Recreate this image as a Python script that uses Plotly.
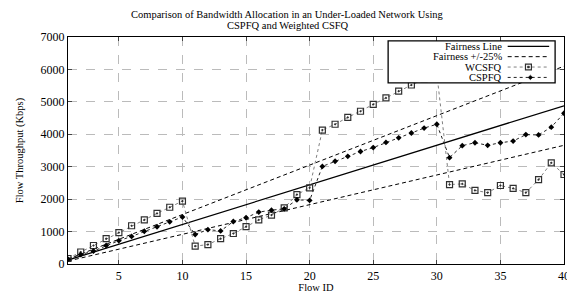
import plotly.graph_objects as go

flow_ids = list(range(1, 41))
fair_share_per_flow = 122  # Kbps per flow index (fairness line slope)

wcsfq = [170, 370, 570, 780, 970, 1180, 1360, 1560, 1750, 1940,
         550, 600, 780, 940, 1150, 1360, 1510, 1730, 2140, 2350,
         4130, 4310, 4520, 4710, 4920, 5120, 5330, 5520, 5700, 5870,
         2450, 2470, 2270, 2200, 2420, 2330, 2200, 2600, 3120, 2760]

cspfq = [150, 290, 400, 570, 720, 850, 1010, 1150, 1300, 1450,
         910, 1060, 1020, 1310, 1430, 1600, 1660, 1700, 1980, 1960,
         3010, 3170, 3320, 3470, 3590, 3750, 3890, 4040, 4190, 4310,
         3280, 3650, 3740, 3660, 3740, 3790, 3990, 3980, 4220, 4650]

x_ticks = [5, 10, 15, 20, 25, 30, 35, 40]
y_ticks = [0, 1000, 2000, 3000, 4000, 5000, 6000, 7000]
legend_names = ["Fairness Line", "Fairness +/-25%", "WCSFQ", "CSPFQ"]

fair = [fair_share_per_flow * i for i in flow_ids]
upper = [1.25 * v for v in fair]
lower = [0.75 * v for v in fair]

FONT = "Liberation Serif, Times New Roman, serif"

# figure geometry (page body has an 8px margin)
W, H = 567, 289
ML, MR, MT, MB = 60, 5, 29, 28
PW, PH = W - ML - MR, H - MT - MB


def px(x):
    return (x - ML) / PW


def py(y):
    return 1 - (y - MT) / PH


WC_LINE = "#808080"
WC_MARK = "#303030"
DASH = "4px,3px"

fig = go.Figure()
fig.add_trace(go.Scatter(x=flow_ids, y=fair, mode="lines", name=legend_names[0],
                         line=dict(color="black", width=1.3)))
fig.add_trace(go.Scatter(x=flow_ids, y=upper, mode="lines", name=legend_names[1],
                         line=dict(color="black", width=1, dash=DASH)))
fig.add_trace(go.Scatter(x=flow_ids, y=lower, mode="lines", name=legend_names[1],
                         line=dict(color="black", width=1, dash=DASH)))
fig.add_trace(go.Scatter(x=flow_ids, y=wcsfq, mode="lines+markers", name=legend_names[2],
                         line=dict(color=WC_LINE, width=1, dash="dot"),
                         marker=dict(symbol="square-open-dot", size=6, color=WC_MARK,
                                     line=dict(width=1.2))))
fig.add_trace(go.Scatter(x=flow_ids, y=cspfq, mode="lines+markers", name=legend_names[3],
                         line=dict(color="#222222", width=1, dash="dot"),
                         marker=dict(symbol="diamond", size=4.5, color="black")))

# hand-drawn legend (text right-aligned, sample on the right, like gnuplot)
top, step = 33, 10.6
entry_y = [top + 5.5 + i * step for i in range(4)]
bottom = entry_y[-1] + 5.5
shapes = [dict(type="rect", xref="paper", yref="paper",
               x0=px(384), x1=px(553), y0=py(bottom), y1=py(top),
               line=dict(color="black", width=1.3), fillcolor="white", layer="above")]
annotations = []
styles = [dict(color="black", width=1.3), dict(color="black", width=1, dash=DASH),
          dict(color=WC_LINE, width=1, dash="dot"), dict(color="#222222", width=1, dash="dot")]
for name, ey, st in zip(legend_names, entry_y, styles):
    annotations.append(dict(text=name, xref="paper", yref="paper", x=px(500), y=py(ey),
                            xanchor="right", yanchor="middle", showarrow=False,
                            borderpad=0,
                            font=dict(family=FONT, size=10.5, color="black")))
    shapes.append(dict(type="line", xref="paper", yref="paper", x0=px(505), x1=px(547),
                       y0=py(ey), y1=py(ey), line=st, layer="above"))
# marker samples
cx, cy = 526, entry_y[2]
shapes.append(dict(type="rect", xref="paper", yref="paper", x0=px(cx - 3), x1=px(cx + 3),
                   y0=py(cy + 3), y1=py(cy - 3), line=dict(color=WC_MARK, width=1.2),
                   fillcolor="white", layer="above"))
shapes.append(dict(type="rect", xref="paper", yref="paper", x0=px(cx - 1), x1=px(cx + 1),
                   y0=py(cy + 1), y1=py(cy - 1), line=dict(color=WC_MARK, width=0.5),
                   fillcolor=WC_MARK, layer="above"))
cx, cy = 528, entry_y[3]
shapes.append(dict(type="path", xref="paper", yref="paper",
                   path=f"M {px(cx-2.3)} {py(cy)} L {px(cx)} {py(cy-2.3)} L {px(cx+2.3)} {py(cy)} L {px(cx)} {py(cy+2.3)} Z",
                   line=dict(color="black", width=0.5), fillcolor="black", layer="above"))

# two-line title
annotations.append(dict(text="Comparison of Bandwidth Allocation in an Under-Loaded Network Using",
                        xref="paper", yref="paper", x=px(W / 2 - 1), y=py(6.3),
                        xanchor="center", yanchor="middle", showarrow=False, borderpad=0,
                        font=dict(family=FONT, size=10.5, color="black")))
annotations.append(dict(text="CSPFQ and Weighted CSFQ",
                        xref="paper", yref="paper", x=px(W / 2 - 1), y=py(17.5),
                        xanchor="center", yanchor="middle", showarrow=False, borderpad=0,
                        font=dict(family=FONT, size=10.5, color="black")))

fig.update_layout(
    width=W, height=H,
    margin=dict(l=ML, r=MR, t=MT, b=MB),
    paper_bgcolor="white", plot_bgcolor="white",
    font=dict(family=FONT, color="black", size=11),
    showlegend=False,
    shapes=shapes,
    annotations=annotations,
)
fig.update_xaxes(range=[1, 40], tickvals=x_ticks, ticks="inside", ticklen=4,
                 showgrid=True, gridcolor="#bbbbbb", griddash="dash", gridwidth=1,
                 showline=True, linecolor="black", linewidth=1.2, mirror="ticks",
                 zeroline=False,
                 title=dict(text="Flow ID", font=dict(family=FONT, size=10.5), standoff=2),
                 tickfont=dict(family=FONT, size=12))
fig.update_yaxes(range=[0, 7000], tickvals=y_ticks, ticks="inside", ticklen=4,
                 showgrid=True, gridcolor="#bbbbbb", griddash="dash", gridwidth=1,
                 showline=True, linecolor="black", linewidth=1.2, mirror="ticks",
                 zeroline=False,
                 title=dict(text="Flow Throughput (Kbps)", font=dict(family=FONT, size=10.5), standoff=14),
                 tickfont=dict(family=FONT, size=12))

fig.write_html("out.html")
